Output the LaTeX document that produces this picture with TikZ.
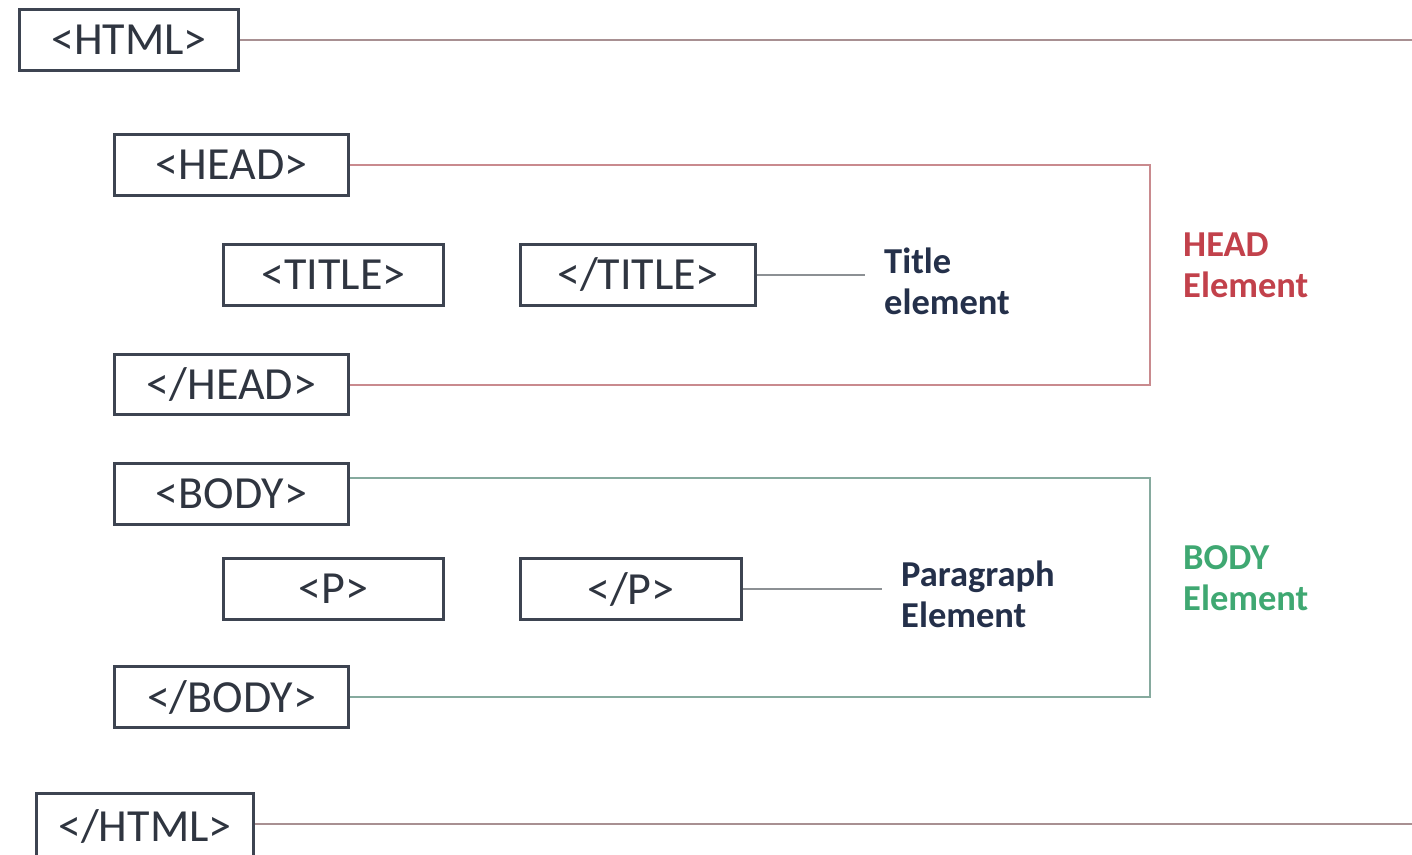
\documentclass[tikz,border=0pt]{standalone}
\usepackage{fontspec}
\setmainfont{Carlito}
\definecolor{boxline}{HTML}{3D4451}
\definecolor{boxtext}{HTML}{2F3540}
\definecolor{navy}{HTML}{24304A}
\definecolor{headred}{HTML}{C2414B}
\definecolor{bodygreen}{HTML}{3FA872}
\definecolor{htmlline}{HTML}{A89092}
\definecolor{headline}{HTML}{C98A8E}
\definecolor{bodyline}{HTML}{86AA9E}
\definecolor{subline}{HTML}{8C9094}
\tikzset{
  tagbox/.style={draw=boxline, line width=3pt, fill=white, text=boxtext,
    minimum height=61pt, inner sep=0pt, font=\fontsize{46}{50}\selectfont},
  lbl/.style={anchor=west, align=left, inner sep=0pt,
    font=\bfseries\fontsize{36.5}{41}\selectfont},
  htmlconn/.style={draw=htmlline, line width=2pt},
  headconn/.style={draw=headline, line width=2pt},
  bodyconn/.style={draw=bodyline, line width=2pt},
  subconn/.style={draw=subline, line width=2pt}
}
\begin{document}
\begin{tikzpicture}[x=1pt,y=-1pt]
\useasboundingbox (0,0) rectangle (1412,854);
\fill[white] (0,0) rectangle (1412,854);
% boxes
\node[tagbox, minimum width=219pt] (html) at (129,40) {<HTML>};
\node[tagbox, minimum width=234pt] (head) at (231.5,165) {<HEAD>};
\node[tagbox, minimum width=220pt] (title) at (333.5,275) {<TITLE>};
\node[tagbox, minimum width=235pt] (ctitle) at (638,275) {</TITLE>};
\node[tagbox, minimum width=234pt, minimum height=60pt] (chead) at (231.5,384.5) {</HEAD>};
\node[tagbox, minimum width=234pt] (body) at (231.5,494) {<BODY>};
\node[tagbox, minimum width=220pt] (p) at (333.5,589) {<P>};
\node[tagbox, minimum width=221pt] (cp) at (631,589) {</P>};
\node[tagbox, minimum width=234pt] (cbody) at (231.5,697) {</BODY>};
\node[tagbox, minimum width=217pt, minimum height=65pt] (chtml) at (145,826) {</HTML>};
% coordinates
\coordinate (htmlend) at (1412,40);
\coordinate (chtmlend) at (1412,824);
\coordinate (headtop) at (1150,165);
\coordinate (headbot) at (1150,384.5);
\coordinate (bodystart) at (350,478);
\coordinate (bodytop) at (1150,478);
\coordinate (bodybot) at (1150,697);
\coordinate (titleend) at (865,275);
\coordinate (pend) at (882,589);
% labels
\node[lbl, text=navy] (tlabel) at (884,281) {Title\\element};
\node[lbl, text=navy] (plabel) at (901,594) {Paragraph\\Element};
\node[lbl, text=headred] (hlabel) at (1183,265) {HEAD\\Element};
\node[lbl, text=bodygreen] (blabel) at (1183,578) {BODY\\Element};
% connectors
\draw[htmlconn] (html.east) -- (htmlend);
\draw[htmlconn] (chtml.east |- chtmlend) -- (chtmlend);
\draw[headconn] (head.east) -- (headtop) -- (headbot) -- (chead.east);
\draw[bodyconn] (bodystart) -- (bodytop) -- (bodybot) -- (cbody.east);
\draw[subconn] (ctitle.east) -- (titleend);
\draw[subconn] (cp.east) -- (pend);
\end{tikzpicture}
\end{document}
